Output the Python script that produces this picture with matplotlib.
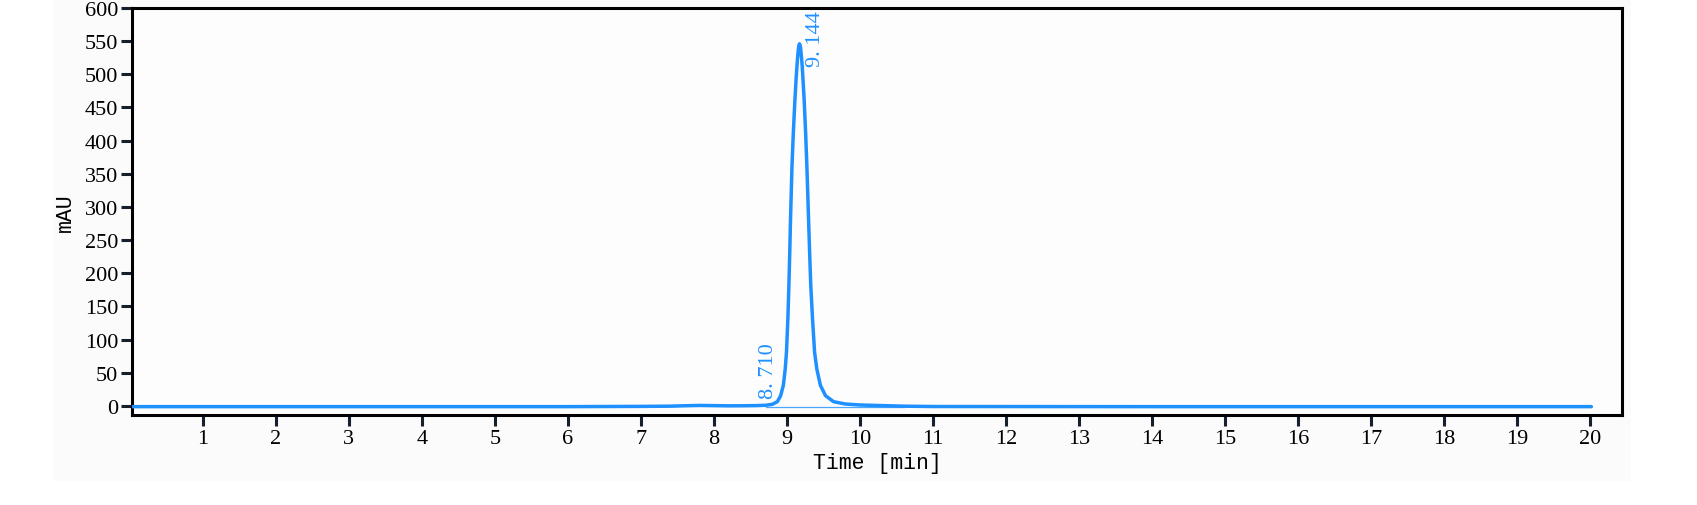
import matplotlib
matplotlib.use("Agg")
import matplotlib.pyplot as plt
from matplotlib.patches import Rectangle

# ---- data ----
time_min = [0.0, 2.0, 4.0, 6.0, 6.5, 7.0, 7.4, 7.6, 7.8, 8.0, 8.2, 8.4, 8.6, 8.72,
            8.8, 8.87, 8.915, 8.952, 8.978, 8.995, 9.014, 9.028, 9.04, 9.05,
            9.07, 9.088, 9.11, 9.128, 9.145, 9.155, 9.164, 9.173, 9.182, 9.192,
            9.202, 9.212, 9.238, 9.258, 9.275, 9.298, 9.312, 9.328, 9.352, 9.38,
            9.41, 9.46, 9.53, 9.64, 9.8, 10.0, 10.3, 10.6, 11.0, 14.0, 20.02]
mau = [-1, -1, -1, -1, -0.8, -0.6, -0.3, 0.3, 0.8, 0.5, 0.2, 0.3, 0.6, 1.2,
       2.5, 6.5, 15.5, 31, 56, 81, 131, 181, 232, 280,
       360, 410, 460, 495, 522, 535, 543, 546, 544, 536,
       524, 510, 460, 410, 360, 280, 232, 181, 131, 81,
       56, 31, 15.5, 6.5, 3, 1.5, 0.6, -0.3, -0.8, -1, -1]

# integration baseline under the peak
base_t = [8.71, 10.6]
base_v = [-1.3, -1.3]

# peak annotations: (label, x position, bottom y)
peak_labels = ["8. 710", "9. 144"]
peak_label_x = [8.744, 9.39]
peak_label_y = [12, 513]

x_ticks = list(range(1, 21))
y_ticks = list(range(0, 601, 50))

W, H = 1697, 506
fig = plt.figure(figsize=(W / 100, H / 100), dpi=100, facecolor="white")

# light grey panel behind the plot
bg = Rectangle((53 / W, 1 - 482 / H), (1631 - 53) / W, 482 / H,
               transform=fig.transFigure, facecolor="#fbfbfb",
               edgecolor="none", zorder=-10)
fig.patches.append(bg)

ax = fig.add_axes([132 / W, 1 - 416 / H, (1622 - 132) / W, (416 - 9) / H])
ax.set_zorder(5)
ax.set_facecolor("#fdfdfd")

blue = "#1e90ff"
ax.plot(time_min, mau, color=blue, lw=2.5, solid_joinstyle="round",
        solid_capstyle="round", zorder=3)
ax.plot(base_t, base_v, color=blue, lw=0.9, alpha=0.8, zorder=2)

for lab, lx, ly in zip(peak_labels, peak_label_x, peak_label_y):
    ax.text(lx, ly, lab, rotation=90, ha="center", va="bottom", color=blue,
            fontsize=16, family=["Liberation Serif", "DejaVu Serif"])

ax.set_xlim(0.03, 20.44)
ax.set_ylim(-13.6, 600)
ax.set_xticks(x_ticks)
ax.set_yticks(y_ticks)

tick_font = dict(family=["Liberation Serif", "DejaVu Serif"], size=16)
ax.set_xticklabels([str(t) for t in x_ticks], **tick_font)
ax.set_yticklabels([str(t) for t in y_ticks], **tick_font)
ax.tick_params(axis="both", direction="out", length=8, width=2.2,
               color="#14202e", pad=2)

for sp in ax.spines.values():
    sp.set_linewidth(2.2)
    sp.set_color("black")

label_font = dict(family=["Liberation Mono", "DejaVu Sans Mono"], size=15.5)
ax.set_xlabel("Time [min]", labelpad=3, **label_font)
ax.set_ylabel("mAU", labelpad=6, **label_font)

fig.savefig("out.png", dpi=100, facecolor="white")
